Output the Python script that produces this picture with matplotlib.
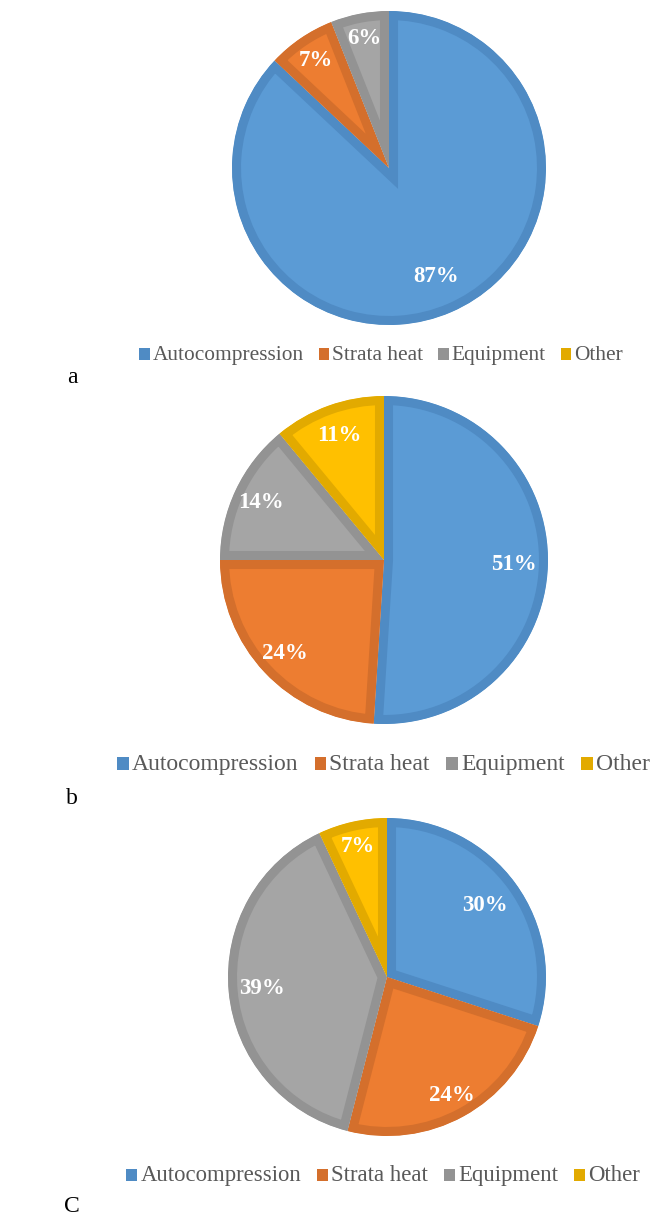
import numpy as np
import matplotlib
matplotlib.use('Agg')
from matplotlib import pyplot as plt
from matplotlib.patches import Rectangle

plt.rcParams['font.family'] = ['Liberation Serif', 'DejaVu Serif']

# data
categories = ['Autocompression', 'Strata heat', 'Equipment', 'Other']
share_a = [87, 7, 6, 0]
share_b = [51, 24, 14, 11]
share_c = [30, 24, 39, 7]
panel_names = ['a', 'b', 'C']

fill_colors = ['#5B9BD5', '#ED7D31', '#A5A5A5', '#FFC000']
edge_colors = ['#4F8BC4', '#D46F2C', '#939393', '#E2AA00']
legend_text = '#595959'

W, H = 650, 1217
fig = plt.figure(figsize=(W / 100, H / 100), dpi=100)
renderer = fig.canvas.get_renderer()

# layout in pixels: pie centre, outer radius, label distances,
# legend left edge + baseline, legend size, panel label y
panels = [
    dict(vals=share_a, c=(389, 168), r=157, dist=[0.75, 0.83, 0.84, 0.8],
         leg=(139, 360), leg_fs=15.4, lab_y=378),
    dict(vals=share_b, c=(384, 560), r=164, dist=[0.79, 0.83, 0.83, 0.81],
         leg=(117, 770), leg_fs=17.0, lab_y=798),
    dict(vals=share_c, c=(387, 977), r=159, dist=[0.76, 0.85, 0.79, 0.84],
         leg=(126, 1181), leg_fs=16.4, lab_y=1206),
]


def draw_legend(x, base, fs):
    # lay the items out in pixels from the left edge
    sq = fs * 0.7
    gap_sq, gap_item = 3, fs * 0.95
    for name, col in zip(categories, edge_colors):
        fig.patches.append(Rectangle((x / W, 1 - base / H), sq / W, (sq + 1) / H,
                                     transform=fig.transFigure, facecolor=col,
                                     edgecolor='none', figure=fig))
        x += sq + gap_sq
        t = fig.text(x / W, 1 - base / H, name, fontsize=fs, va='baseline', ha='left',
                     color=legend_text)
        x += t.get_window_extent(renderer).width + gap_item


for p, name in zip(panels, panel_names):
    cx, cy = p['c']
    r = p['r']
    ax = fig.add_axes([(cx - r) / W, 1 - (cy + r) / H, 2 * r / W, 2 * r / H])
    keep = [i for i, v in enumerate(p['vals']) if v > 0]
    vals = [p['vals'][i] for i in keep]
    wedges, _ = ax.pie(vals, colors=[fill_colors[i] for i in keep], startangle=90,
                       counterclock=False, radius=1.0)
    # border drawn inside each slice only (clipped to its own shape)
    for w, i in zip(wedges, keep):
        w.set_edgecolor(edge_colors[i])
        w.set_linewidth(13)
        w.set_joinstyle('miter')
        w.set_clip_path(w)
        w.set_clip_on(True)
    total = sum(vals)
    for w, v, i in zip(wedges, vals, keep):
        d = p['dist'][i]
        ang = np.deg2rad((w.theta1 + w.theta2) / 2)
        ax.text(d * np.cos(ang), d * np.sin(ang), '%d%%' % round(100 * v / total),
                ha='center', va='center', color='white', fontsize=16.5, fontweight='bold')
    ax.set_xlim(-1, 1)
    ax.set_ylim(-1, 1)
    ax.set_aspect('equal')
    ax.axis('off')

    draw_legend(p['leg'][0], p['leg'][1], p['leg_fs'])
    fig.text(72 / W, 1 - p['lab_y'] / H, name, fontsize=17, ha='center', va='center')

fig.savefig('out.png', dpi=100)
